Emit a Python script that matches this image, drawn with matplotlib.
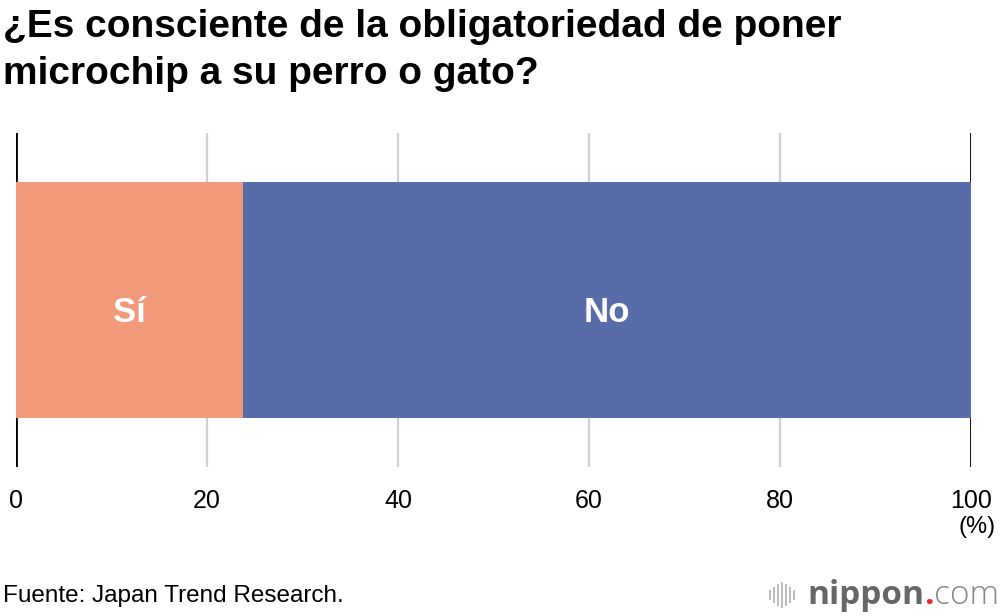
import matplotlib.pyplot as plt

plt.rcParams['font.family'] = ['Liberation Sans', 'DejaVu Sans']

categories = ['Sí', 'No']
values = [23.8, 76.2]
colors = ['#f2997a', '#576ca8']
ticks = [0, 20, 40, 60, 80, 100]

fig = plt.figure(figsize=(10, 6.16), dpi=100)
ax = fig.add_axes([0.016, 0.242, 0.955, 0.542])

left = 0
for cat, val, col in zip(categories, values, colors):
    ax.barh(0, val, left=left, height=1, color=col, zorder=2)
    ax.text(left + val / 2, -0.055, cat, ha='center', va='center', color='white',
            fontsize=25, fontweight='bold', zorder=3)
    left += val

for t in ticks:
    if t in (0, 100):
        ax.axvline(t, color='black', lw=2, zorder=1)
    else:
        ax.axvline(t, color='#d0d0d0', lw=1.6, zorder=1)

ax.set_xlim(0, 100)
ax.set_ylim(-0.708, 0.708)
for s in ax.spines.values():
    s.set_visible(False)
ax.set_yticks([])
ax.set_xticks(ticks)
ax.tick_params(axis='x', length=0, labelsize=18, pad=16, colors='black')

fig.text(0.003, 0.985, '¿Es consciente de la obligatoriedad de poner\nmicrochip a su perro o gato?',
         fontsize=28, fontweight='bold', va='top', ha='left', linespacing=1.38)
fig.text(0.996, 0.145, '(%)', fontsize=17, ha='right', va='center')
fig.text(0.003, 0.032, 'Fuente: Japan Trend Research.', fontsize=17.5, ha='left', va='center')

# logo
x0 = 0.770
for i, h in enumerate([0.014, 0.024, 0.032, 0.038, 0.032, 0.024, 0.014]):
    fig.add_artist(plt.Line2D([x0 + i * 0.004, x0 + i * 0.004], [0.034 - h / 2, 0.034 + h / 2],
                              color='#bbbbbb', lw=1.4))
t1 = fig.text(0.807, 0.034, 'nippon', fontsize=24, fontweight='bold', color='#666666',
              ha='left', va='center', family=['Open Sans', 'DejaVu Sans'])
fig.canvas.draw()
bb = t1.get_window_extent().transformed(fig.transFigure.inverted())
t2 = fig.text(bb.x1, 0.034, '.', fontsize=24, fontweight='bold', color='#e8222b',
              ha='left', va='center', family=['Open Sans', 'DejaVu Sans'])
fig.canvas.draw()
bb2 = t2.get_window_extent().transformed(fig.transFigure.inverted())
fig.text(bb2.x1, 0.034, 'com', fontsize=24, color='#888888', ha='left', va='center',
         family=['Open Sans', 'DejaVu Sans'], fontweight='light')

fig.savefig('out.png', dpi=100)
